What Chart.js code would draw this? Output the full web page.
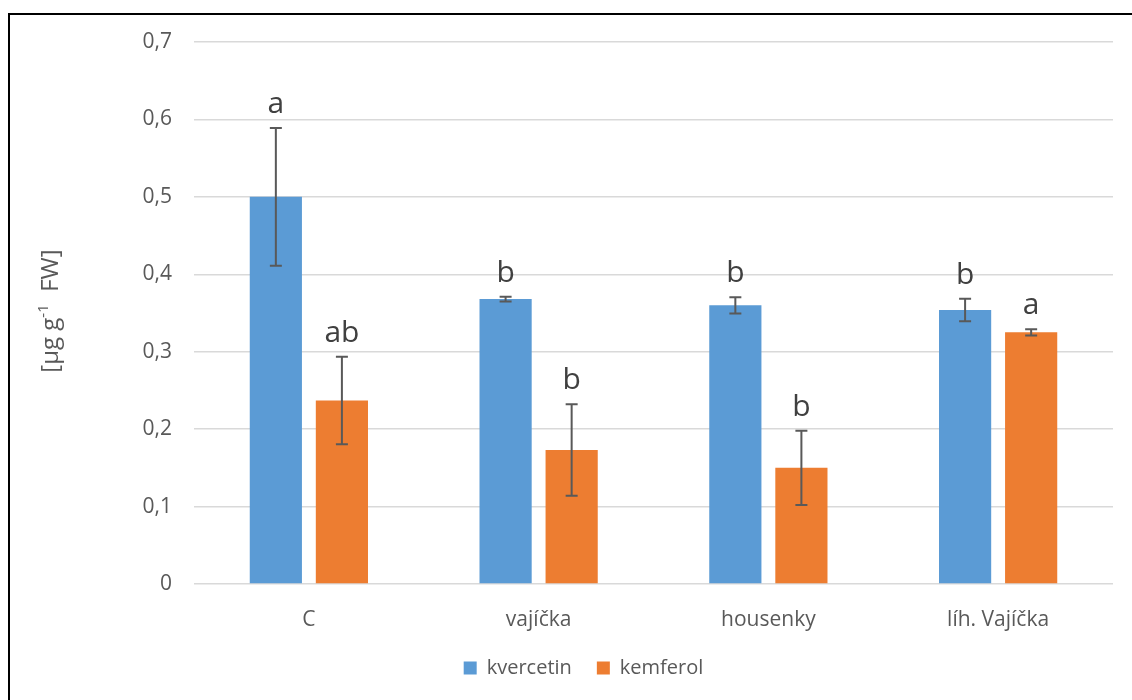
<!DOCTYPE html>
<html>
<head>
<meta charset="utf-8">
<script src="https://cdn.jsdelivr.net/npm/chart.js@4.4.1/dist/chart.umd.min.js"></script>
<style>
  html, body { margin: 0; padding: 0; background: #fff; }
  #wrap { position: relative; width: 1132px; height: 700px; overflow: hidden; }
  #frame { position: absolute; left: 8px; top: 13px; width: 1300px; height: 900px;
           border-left: 2px solid #000; border-top: 2px solid #000; }
  #c { position: absolute; left: 0; top: 0; }
</style>
</head>
<body>
<div id="wrap">
  <div id="frame"></div>
  <canvas id="c" width="1132" height="700"></canvas>
</div>
<script>
// Flavonoid content per treatment
const categories = ['C', 'vajíčka', 'housenky', 'líh. Vajíčka'];
const kvercetin = [0.500, 0.368, 0.360, 0.354];
const kvercetinErr = [0.089, 0.003, 0.0105, 0.0145];
const kemferol = [0.237, 0.173, 0.150, 0.325];
const kemferolErr = [0.0565, 0.059, 0.048, 0.004];
// significance groups written above each bar
const kvercetinLetters = ['a', 'b', 'b', 'b'];
const kemferolLetters = ['ab', 'b', 'b', 'a'];
const yMin = 0, yMax = 0.7, yStep = 0.1;

const FONT = '"Open Sans", "Liberation Sans", sans-serif';
const GREY = '#595959';

// whiskers plus letters over every bar
const errorBarPlugin = {
  id: 'errorBars',
  afterDatasetsDraw(chart) {
    const ctx = chart.ctx;
    const y = chart.scales.y;
    chart.data.datasets.forEach((ds, di) => {
      const meta = chart.getDatasetMeta(di);
      meta.data.forEach((bar, i) => {
        const v = ds.data[i], e = ds.errors[i];
        const top = y.getPixelForValue(v + e);
        const bot = y.getPixelForValue(v - e);
        const x = bar.x;
        ctx.save();
        ctx.strokeStyle = GREY;
        ctx.lineWidth = 2;
        ctx.beginPath();
        ctx.moveTo(x, top); ctx.lineTo(x, bot);
        ctx.moveTo(x - 6, top); ctx.lineTo(x + 6, top);
        ctx.moveTo(x - 6, bot); ctx.lineTo(x + 6, bot);
        ctx.stroke();
        ctx.fillStyle = '#404040';
        ctx.font = '30px ' + FONT;
        ctx.textAlign = 'center';
        ctx.textBaseline = 'alphabetic';
        ctx.fillText(ds.letters[i], x, top - 15);
        ctx.restore();
      });
    });
  }
};

// rotated axis title with a superscript exponent
const yTitlePlugin = {
  id: 'yTitle',
  afterDraw(chart) {
    const ctx = chart.ctx;
    const area = chart.chartArea;
    const parts = [
      { t: '[µg g', size: 24, rise: 0 },
      { t: '-1', size: 15, rise: 10 },
      { t: '  FW]', size: 24, rise: 0 }
    ];
    ctx.save();
    let total = 0;
    parts.forEach(p => { ctx.font = p.size + 'px ' + FONT; p.w = ctx.measureText(p.t).width; total += p.w; });
    ctx.translate(58, (area.top + area.bottom) / 2 - 2);
    ctx.rotate(-Math.PI / 2);
    ctx.fillStyle = GREY;
    ctx.textBaseline = 'alphabetic';
    ctx.textAlign = 'left';
    let x = -total / 2;
    parts.forEach(p => {
      ctx.font = p.size + 'px ' + FONT;
      ctx.fillText(p.t, x, -p.rise);
      x += p.w;
    });
    ctx.restore();
  }
};

new Chart(document.getElementById('c'), {
  type: 'bar',
  data: {
    labels: categories,
    datasets: [
      { label: 'kvercetin', data: kvercetin, errors: kvercetinErr, letters: kvercetinLetters,
        backgroundColor: '#5B9BD5', borderWidth: 0 },
      { label: 'kemferol', data: kemferol, errors: kemferolErr, letters: kemferolLetters,
        backgroundColor: '#ED7D31', borderWidth: 0 }
    ]
  },
  options: {
    responsive: false,
    animation: false,
    devicePixelRatio: 1,
    categoryPercentage: 0.575,
    barPercentage: 0.79,
    layout: { padding: { left: 54, right: 19, top: 42, bottom: 12 } },
    scales: {
      x: {
        grid: { display: false },
        border: { display: false },
        ticks: { color: GREY, font: { family: FONT, size: 21 }, padding: 15 },
        afterFit(s) { s.height = 49; }
      },
      y: {
        min: yMin, max: yMax,
        grid: { color: '#D9D9D9', lineWidth: 1.4, drawTicks: false },
        border: { display: false },
        ticks: {
          stepSize: yStep,
          color: GREY,
          font: { family: FONT, size: 21 },
          padding: 22,
          callback: v => v === 0 ? '0' : v.toFixed(1).replace('.', ',')
        },
        afterFit(s) { s.width = 140; }
      }
    },
    plugins: {
      legend: {
        position: 'bottom',
        labels: { color: GREY, font: { family: FONT, size: 20 }, boxWidth: 13, boxHeight: 13, padding: 25 }
      },
      tooltip: { enabled: false }
    }
  },
  plugins: [errorBarPlugin, yTitlePlugin]
});
</script>
</body>
</html>
